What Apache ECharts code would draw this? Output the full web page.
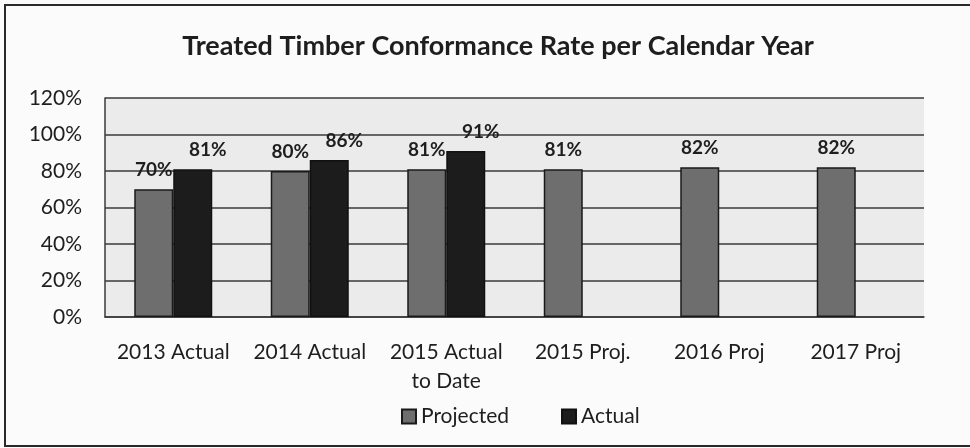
<!DOCTYPE html>
<html>
<head>
<meta charset="utf-8">
<script src="https://cdn.jsdelivr.net/npm/echarts@6/dist/echarts.min.js"></script>
<style>
  html, body { margin: 0; padding: 0; background: #fbfbfb; }
  #chart { width: 970px; height: 448px; }
</style>
</head>
<body>
<div id="chart"></div>
<script>
// Conformance rates (%) per calendar year
const categories = ['2013 Actual', '2014 Actual', '2015 Actual\nto Date', '2015 Proj.', '2016 Proj', '2017 Proj'];
const projected = [70, 80, 81, 81, 82, 82];
const actual = [81, 86, 91, null, null, null];
const yTicks = { min: 0, max: 120, interval: 20 };

const FONT = 'Lato, "Open Sans", sans-serif';
const TEXT = '#1e1e1e';

const chart = echarts.init(document.getElementById('chart'), null, { renderer: 'canvas' });

chart.setOption({
  backgroundColor: '#fbfbfb',
  animation: false,
  title: {
    text: 'Treated Timber Conformance Rate per Calendar Year',
    left: 493,
    textAlign: 'center',
    top: 28,
    textStyle: { fontFamily: FONT, fontWeight: 'bold', fontSize: 27, color: TEXT }
  },
  legend: {
    left: 396,
    top: 401,
    itemWidth: 14,
    itemHeight: 14,
    itemGap: 52,
    icon: 'rect',
    textStyle: { fontFamily: FONT, fontSize: 21, color: TEXT, padding: [0, 0, 0, 0] },
    data: ['Projected', 'Actual']
  },
  grid: {
    left: 105,
    right: 46,
    top: 98,
    bottom: 131,
    show: true,
    backgroundColor: '#ebebeb',
    borderWidth: 0
  },
  xAxis: {
    type: 'category',
    data: categories,
    axisLine: { show: true, lineStyle: { color: '#3a3a3a', width: 1.5 } },
    axisTick: { show: false },
    axisLabel: {
      fontFamily: FONT, fontSize: 21, color: TEXT,
      margin: 21, lineHeight: 29, interval: 0
    }
  },
  yAxis: {
    type: 'value',
    min: yTicks.min,
    max: yTicks.max,
    interval: yTicks.interval,
    axisLine: { show: true, lineStyle: { color: '#3a3a3a', width: 1.5 } },
    axisTick: { show: false },
    axisLabel: {
      fontFamily: FONT, fontSize: 21, color: TEXT, margin: 23,
      formatter: v => v + '%'
    },
    splitLine: { show: true, lineStyle: { color: '#3a3a3a', width: 1.5 } }
  },
  series: [
    {
      name: 'Projected',
      type: 'bar',
      data: projected,
      barWidth: 39,
      barGap: '0%',
      itemStyle: { color: '#6e6e6e', borderColor: '#1a1a1a', borderWidth: 1.5 },
      label: {
        show: true, position: 'top', distance: 10,
        fontFamily: FONT, fontWeight: 'bold', fontSize: 19, color: TEXT,
        formatter: p => p.value + '%'
      }
    },
    {
      name: 'Actual',
      type: 'bar',
      data: actual,
      barWidth: 39,
      barGap: '0%',
      itemStyle: { color: '#1c1c1c', borderColor: '#111', borderWidth: 1.5 },
      label: {
        show: true, position: 'top', distance: 10, offset: [15, 0],
        fontFamily: FONT, fontWeight: 'bold', fontSize: 19, color: TEXT,
        formatter: p => p.value + '%'
      }
    }
  ],
  graphic: [
    {
      type: 'rect',
      shape: { x: 5, y: 5, width: 1000, height: 441 },
      style: { fill: 'none', stroke: '#2a2a2a', lineWidth: 2 },
      silent: true
    }
  ]
});
</script>
</body>
</html>
